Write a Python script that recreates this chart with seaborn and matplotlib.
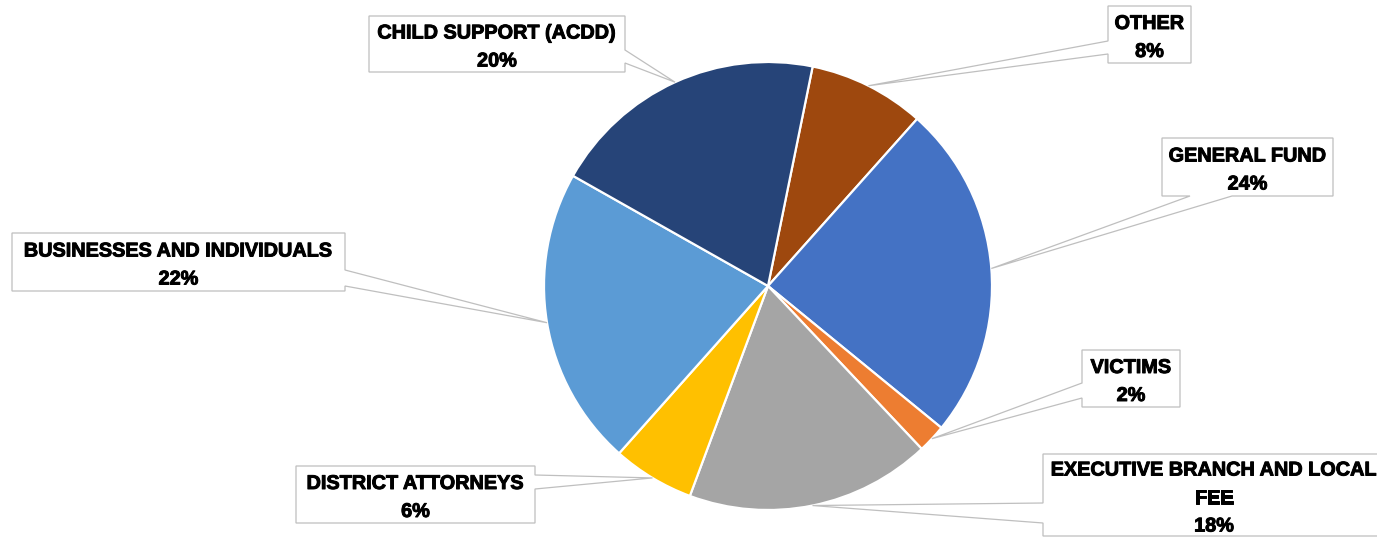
import numpy as np
import matplotlib
matplotlib.use('Agg')
import matplotlib.pyplot as plt
import matplotlib.patheffects as pe
from matplotlib.patches import Polygon
import seaborn as sns

# slice data, clockwise from just right of 12 o'clock
categories = ['OTHER', 'GENERAL FUND', 'VICTIMS', 'EXECUTIVE BRANCH AND LOCAL\nFEE',
              'DISTRICT ATTORNEYS', 'BUSINESSES AND INDIVIDUALS', 'CHILD SUPPORT (ACDD)']
shares = [8.4, 24.3, 2.05, 17.7, 5.9, 21.6, 20.0]
colors = ['#9E480E', '#4472C4', '#ED7D31', '#A5A5A5', '#FFC000', '#5B9BD5', '#264478']

# callout boxes in image pixels: left, top, right, bottom, side of the pointer, pointer base
boxes = [
    (1108, 6, 1191, 63, 'left', (41, 54)),
    (1162, 138, 1333, 196, 'bottom', (1190, 1232)),
    (1082, 350, 1180, 407, 'left', (383, 398)),
    (1043, 454, 1385, 536, 'left', (503, 523)),
    (296, 466, 535, 523, 'right', (475, 489)),
    (12, 233, 345, 291, 'right', (270, 286)),
    (369, 16, 625, 72, 'right', (50, 63)),
]

W, H = 1377, 537
CX, CY, R = 768, 286, 224

sns.set_theme(style='white')
plt.rcParams['font.family'] = ['Liberation Sans', 'DejaVu Sans']

fig = plt.figure(figsize=(W / 100, H / 100), dpi=100)
ax = fig.add_axes([0, 0, 1, 1])
ax.axis('off')

wedges, _ = ax.pie(shares, colors=colors, startangle=78.5, counterclock=False,
                   center=(CX, H - CY), radius=R,
                   wedgeprops=dict(edgecolor='white', linewidth=1.6))
ax.set_xlim(0, W)
ax.set_ylim(0, H)
ax.set_aspect('equal')


def callout(l, t, r, b, side, base, tip):
    a, c = base
    if side == 'left':
        pts = [(l, t), (r, t), (r, b), (l, b), (l, c), tip, (l, a)]
    elif side == 'right':
        pts = [(l, t), (r, t), (r, a), tip, (r, c), (r, b), (l, b)]
    else:
        pts = [(l, t), (r, t), (r, b), (c, b), tip, (a, b), (l, b)]
    return [(x, H - y) for x, y in pts]


for w, name, share, box in zip(wedges, categories, shares, boxes):
    l, t, r, b, side, base = box
    mid = np.deg2rad((w.theta1 + w.theta2) / 2)
    tip = (CX + R * np.cos(mid), CY - R * np.sin(mid))
    poly = Polygon(callout(l, t, r, b, side, base, tip), closed=True,
                   facecolor='white', edgecolor='#BFBFBF', linewidth=0.9, zorder=3)
    ax.add_patch(poly)
    ax.text((l + r) / 2, H - (t + b) / 2 - 3, f'{name}\n{share:.0f}%',
            ha='center', va='center', fontsize=14.3, fontweight='bold',
            color='black', linespacing=1.6, zorder=4,
            path_effects=[pe.withStroke(linewidth=0.7, foreground='black')])

plt.savefig('out.png', dpi=100)
plt.close()
